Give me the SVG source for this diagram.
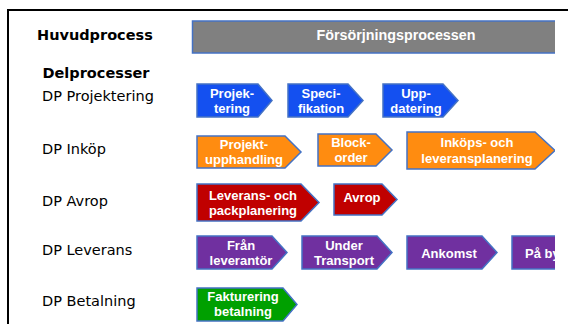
<svg xmlns="http://www.w3.org/2000/svg" width="568" height="324" viewBox="0 0 568 324">
<style>
.lbl{font-family:"DejaVu Sans",Verdana,sans-serif;font-size:14.5px;fill:#000}
.b{font-weight:bold}
.t{font-family:"Liberation Sans",Arial,sans-serif;font-size:13px;font-weight:bold;fill:#fff;text-anchor:middle}
.s{stroke:#4472C4;stroke-width:1.5}
.blue{fill:#1450F0}
.orange{fill:#FF8C10}
.red{fill:#C00000}
.purple{fill:#7030A0}
.green{fill:#00A000}
</style>
<defs>
<clipPath id="clip"><rect x="0" y="0" width="555" height="324"/></clipPath>
</defs>
<rect width="568" height="324" fill="#fff"/>
<path d="M8,324 V10 H568" fill="none" stroke="#000" stroke-width="2"/>
<text class="lbl b" x="37" y="39.5">Huvudprocess</text>
<text class="lbl b" x="42.5" y="77.5">Delprocesser</text>
<text class="lbl" x="42" y="101">DP Projektering</text>
<text class="lbl" x="42" y="154">DP Inköp</text>
<text class="lbl" x="42" y="206">DP Avrop</text>
<text class="lbl" x="42" y="255">DP Leverans</text>
<text class="lbl" x="42" y="306">DP Betalning</text>
<g clip-path="url(#clip)">
<g id="forsorjning">
<rect x="192.5" y="21" width="420" height="32" fill="#808080" class="s"/>
<text class="t" x="396" y="39.5" style="font-size:14.3px">Försörjningsprocessen</text>
</g>
<g id="projektering">
<polygon class="blue s" points="197,84 258,84 272,100.5 258,117 197,117"/>
<text class="t" x="232" y="97.5">Projek-</text><text class="t" x="232" y="112.5">tering</text>
</g>
<g id="specifikation">
<polygon class="blue s" points="288,84 348,84 363,100.5 348,117 288,117"/>
<text class="t" x="321" y="97.5">Speci-</text><text class="t" x="321" y="112.5">fikation</text>
</g>
<g id="uppdatering">
<polygon class="blue s" points="383,84 443,84 458,100.5 443,117 383,117"/>
<text class="t" x="416" y="97.5">Upp-</text><text class="t" x="416" y="112.5">datering</text>
</g>
<g id="projektupphandling">
<polygon class="orange s" points="197,136 285,136 301,152 285,168 197,168"/>
<text class="t" x="244" y="149">Projekt-</text><text class="t" x="244" y="164">upphandling</text>
</g>
<g id="blockorder">
<polygon class="orange s" points="318,134 376,134 392,150 376,166 318,166"/>
<text class="t" x="351" y="147">Block-</text><text class="t" x="351" y="162">order</text>
</g>
<g id="inkopsplanering">
<polygon class="orange s" points="407,132 535,132 555,150.5 535,169 407,169"/>
<text class="t" x="477" y="147">Inköps- och</text><text class="t" x="477" y="163">leveransplanering</text>
</g>
<g id="packplanering">
<polygon class="red s" points="197,184 301,184 319,202.5 301,221 197,221"/>
<text class="t" x="253" y="199.5">Leverans- och</text><text class="t" x="253" y="214.5">packplanering</text>
</g>
<g id="avrop">
<polygon class="red s" points="334,184 382,184 397,199.5 382,215 334,215"/>
<text class="t" x="362" y="202">Avrop</text>
</g>
<g id="fran">
<polygon class="purple s" points="197,236 272,236 287,252.5 272,269 197,269"/>
<text class="t" x="241" y="249.5">Från</text><text class="t" x="241" y="264.5">leverantör</text>
</g>
<g id="under">
<polygon class="purple s" points="302,236 377,236 392,252.5 377,269 302,269"/>
<text class="t" x="344" y="249.5">Under</text><text class="t" x="344" y="265">Transport</text>
</g>
<g id="ankomst">
<polygon class="purple s" points="407,236 482,236 497,252.5 482,269 407,269"/>
<text class="t" x="449" y="257.5">Ankomst</text>
</g>
<g id="paby">
<polygon class="purple s" points="512,236 588,236 603,252.5 588,269 512,269"/>
<text class="t" x="525" y="257.5" style="text-anchor:start">På by</text>
</g>
<g id="fakturering">
<polygon class="green s" points="197,288 283,288 297,304.5 283,321 197,321"/>
<text class="t" x="243" y="301">Fakturering</text><text class="t" x="243" y="315.5">betalning</text>
</g>
</g>
<g id="connectors"/>
</svg>
